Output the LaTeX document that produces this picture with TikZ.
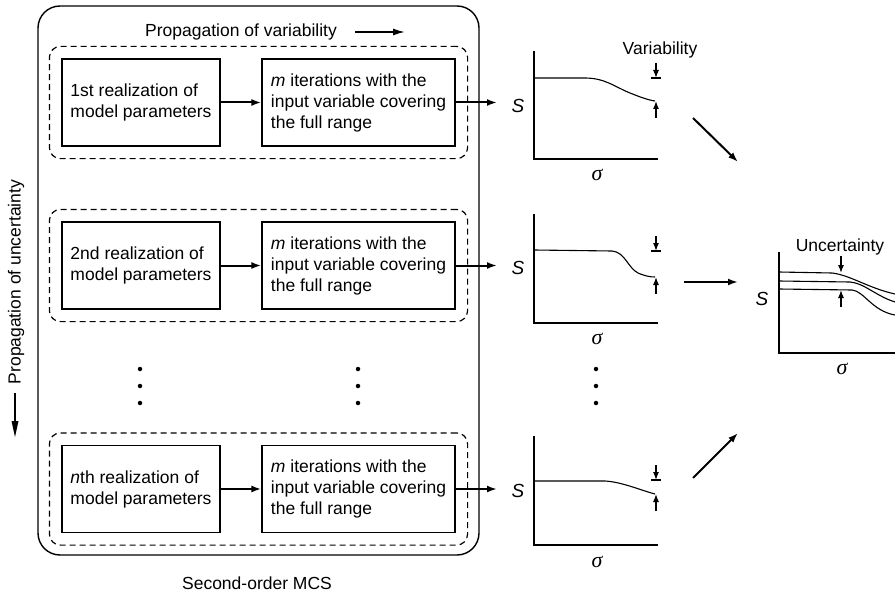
\documentclass[tikz,border=0pt]{standalone}
\usepackage{fontspec}
\setmainfont{Liberation Sans}
\newfontfamily\serifgr{Liberation Serif}
\usetikzlibrary{arrows.meta,fit}
\begin{document}
\begin{tikzpicture}[x=1pt,y=-1pt,
  txt/.style={font=\fontsize{17.5}{21}\selectfont},
  box/.style={draw,line width=1.2pt,minimum height=87pt,align=left,inner sep=0pt,txt},
  boxa/.style={box,minimum width=158pt},
  boxb/.style={box,minimum width=193pt},
  dashbox/.style={draw,dashed,dash pattern=on 6pt off 4pt,line width=1.2pt,rounded corners=11pt,inner sep=12pt},
  arr/.style={line width=2pt,-{Latex[length=10pt,width=7pt]}},
  sarr/.style={line width=1.2pt,-{Latex[length=8pt,width=6pt]}},
  ax/.style={line width=1.4pt},
  crv/.style={line width=1.1pt},
  lbl/.style={font=\fontsize{19}{21}\selectfont\itshape},
  sig/.style={font=\fontsize{22}{21}\serifgr\itshape},
  dot/.style={circle,fill,inner sep=0pt,minimum size=4.5pt}
]
\useasboundingbox (0,0) rectangle (895,594);

% outer box
\node[draw,line width=1.4pt,rounded corners=22pt,minimum width=441pt,minimum height=549pt] (outer) at (258.5,280.5) {};
\node[txt] (pv) at (241,32) {Propagation of variability};
\coordinate (pvs) at (355,32);
\coordinate (pve) at (405,32);
\draw[line width=1.6pt,-{Latex[length=12pt,width=7pt]}] (pvs) -- (pve);

% left label
\node[txt,rotate=90] (pu) at (16,282) {Propagation of uncertainty};
\coordinate (pus) at (15,393);
\coordinate (pum) at (15,423);
\coordinate (pue) at (15,437);
\draw[line width=2pt] (pus) -- (pum);
\fill (11.5,421) -- (18.5,421) -- (pue) -- cycle;

\node[txt] (mcs) at (257,583) {Second-order MCS};

% row 1
\node[boxa] (a1) at (141,102.5) {1st realization of\\model parameters};
\node[boxb] (b1) at (358.5,102.5) {\textit{m} iterations with the\\input variable covering\\the full range};
\node[dashbox,fit=(a1)(b1)] (d1) {};
\draw[arr] (a1) -- (b1);
\coordinate (p1) at (497,102.5);
\draw[arr] (b1) -- (p1);

% row 2
\node[boxa] (a2) at (141,265.5) {2nd realization of\\model parameters};
\node[boxb] (b2) at (358.5,265.5) {\textit{m} iterations with the\\input variable covering\\the full range};
\node[dashbox,fit=(a2)(b2)] (d2) {};
\draw[arr] (a2) -- (b2);
\coordinate (p2) at (497,265.5);
\draw[arr] (b2) -- (p2);

% row n
\node[boxa] (a3) at (141,489) {\textit{n}th realization of\\model parameters};
\node[boxb] (b3) at (358.5,489) {\textit{m} iterations with the\\input variable covering\\the full range};
\node[dashbox,fit=(a3)(b3)] (d3) {};
\draw[arr] (a3) -- (b3);
\coordinate (p3) at (497,489);
\draw[arr] (b3) -- (p3);

% dots
\foreach \yy/\k in {369/1,386/2,403/3}{
  \node[dot] (dl\k) at (140,\yy) {};
  \node[dot] (dr\k) at (358,\yy) {};
  \node[dot] (dp\k) at (596,\yy) {};
}

% plot 1
\draw[ax] (534,51) -- (534,159) -- (658,159);
\node[lbl] (s1) at (518,106) {S};
\node[sig] (g1) at (597,175) {σ};
\draw[crv] (534,78) -- (585,78) .. controls (605,78) and (615,87) .. (630,93) .. controls (640,97) and (648,100) .. (655,101);
\node[txt] (var) at (660,50) {Variability};
\draw[line width=1.1pt] (651,78) -- (661,78);
\coordinate (v1a) at (656,63); \coordinate (v1b) at (656,78);
\coordinate (v1c) at (656,118); \coordinate (v1d) at (656,101);
\draw[sarr] (v1a) -- (v1b);
\draw[sarr] (v1c) -- (v1d);
\coordinate (q1s) at (693,118); \coordinate (q1e) at (738,162);
\draw[arr] (q1s) -- (q1e);

% plot 2
\draw[ax] (534,214) -- (534,323) -- (658,323);
\node[lbl] (s2) at (518,268) {S};
\node[sig] (g2) at (597,339) {σ};
\draw[crv] (534,250) -- (612,251) .. controls (625,252) and (628,268) .. (638,273) .. controls (645,276) and (650,277) .. (655,277);
\draw[line width=1.1pt] (651,251) -- (661,251);
\coordinate (v2a) at (656,236); \coordinate (v2b) at (656,251);
\coordinate (v2c) at (656,294); \coordinate (v2d) at (656,277);
\draw[sarr] (v2a) -- (v2b);
\draw[sarr] (v2c) -- (v2d);
\coordinate (q2s) at (684,282); \coordinate (q2e) at (738,282);
\draw[arr] (q2s) -- (q2e);

% plot n
\draw[ax] (534,436) -- (534,545) -- (658,545);
\node[lbl] (s3) at (518,491) {S};
\node[sig] (g3) at (597,562) {σ};
\draw[crv] (534,481) -- (605,481) .. controls (622,482) and (640,490) .. (655,494);
\draw[line width=1.1pt] (651,480) -- (661,480);
\coordinate (v3a) at (656,465); \coordinate (v3b) at (656,480);
\coordinate (v3c) at (656,511); \coordinate (v3d) at (656,494);
\draw[sarr] (v3a) -- (v3b);
\draw[sarr] (v3c) -- (v3d);
\coordinate (q3s) at (693,478); \coordinate (q3e) at (738,433);
\draw[arr] (q3s) -- (q3e);

% final plot
\draw[ax] (779,252) -- (779,353) -- (895,353);
\node[lbl] (s4) at (762,299) {S};
\node[sig] (g4) at (842,369) {σ};
\draw[crv] (779,272) -- (832,273) .. controls (850,275) and (868,288) .. (895,294);
\draw[crv] (779,281) -- (850,282) .. controls (864,283) and (876,296) .. (895,302);
\draw[crv] (779,289) -- (852,290) .. controls (864,291) and (872,311) .. (895,315);
\node[txt] (unc) at (840,247) {Uncertainty};
\coordinate (u1) at (841,256); \coordinate (u2) at (841,273);
\coordinate (u3) at (841,307); \coordinate (u4) at (841,290);
\draw[sarr] (u1) -- (u2);
\draw[sarr] (u3) -- (u4);
\end{tikzpicture}
\end{document}
